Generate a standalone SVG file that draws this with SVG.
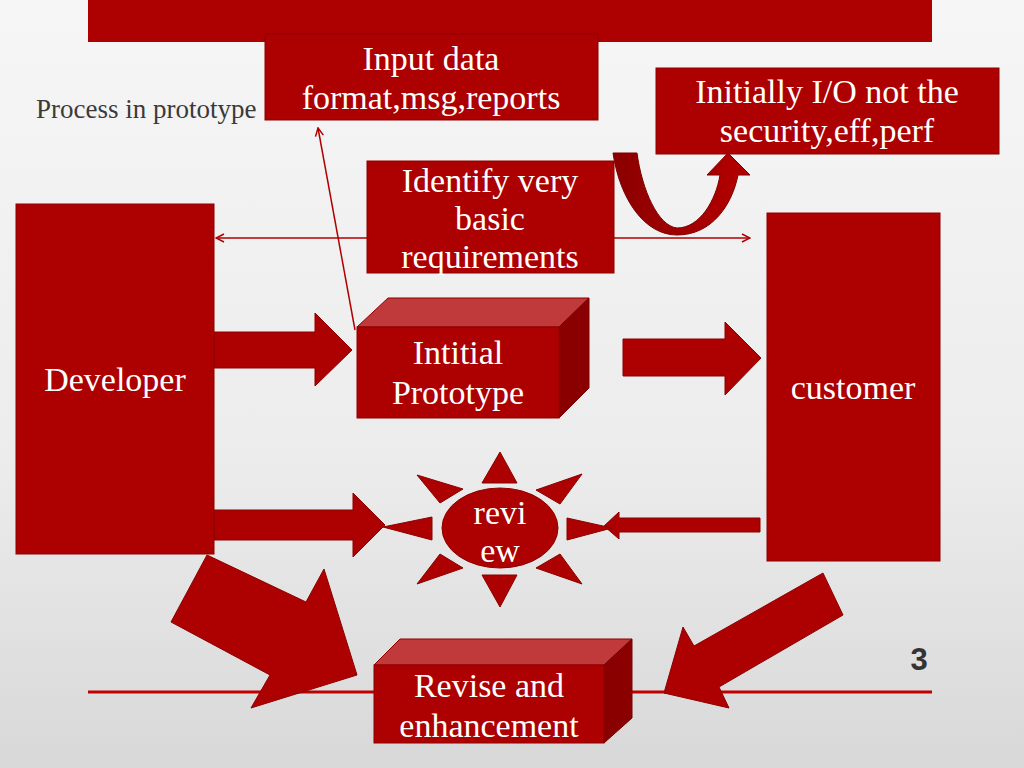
<svg xmlns="http://www.w3.org/2000/svg" width="1024" height="768" viewBox="0 0 1024 768">
<defs>
<linearGradient id="bg" x1="0" y1="0" x2="0" y2="1">
<stop offset="0" stop-color="#f6f6f6"/>
<stop offset="0.6" stop-color="#ececec"/>
<stop offset="1" stop-color="#d8d8d8"/>
</linearGradient>
<linearGradient id="ushade" x1="0" y1="0" x2="1" y2="0">
<stop offset="0" stop-color="#8a0000"/>
<stop offset="0.45" stop-color="#a00000"/>
<stop offset="1" stop-color="#b40000"/>
</linearGradient>
<marker id="open" viewBox="0 0 10 10" refX="9" refY="5" markerWidth="10" markerHeight="10" markerUnits="userSpaceOnUse" orient="auto-start-reverse">
<path d="M1,1 L9,5 L1,9" fill="none" stroke="#b00000" stroke-width="1.5"/>
</marker>
<style>
.box{fill:#ad0000;stroke:#8e0000;stroke-width:1}
.top{fill:#c0393b;stroke:#8e0000;stroke-width:1}
.side{fill:#8a0000;stroke:#7a0000;stroke-width:1}
.fat{fill:#ad0000;stroke:#8e0000;stroke-width:1}
.t{font-family:"Liberation Serif","Times New Roman",serif;font-size:34px;fill:#ffffff;text-anchor:middle}
.thin{stroke:#b00000;stroke-width:1.5;fill:none}
</style>
</defs>
<rect x="0" y="0" width="1024" height="768" fill="url(#bg)"/>
<rect x="88" y="0" width="844" height="42" fill="#ad0000"/>
<line x1="88" y1="692" x2="932" y2="692" stroke="#c00000" stroke-width="3"/>
<text x="36" y="118" font-family="Liberation Serif, serif" font-size="27" fill="#3a3a3a">Process in prototype</text>
<text x="919" y="670" font-family="Liberation Sans, Arial, sans-serif" font-size="31" font-weight="bold" fill="#333333" text-anchor="middle">3</text>

<g id="connectors">
<line class="thin" x1="216" y1="238" x2="750" y2="238" marker-start="url(#open)" marker-end="url(#open)"/>
<line class="thin" x1="355" y1="330" x2="318" y2="128" marker-end="url(#open)"/>
<polygon class="fat" points="214,332 315,332 315,313 352,350 315,386 315,368 214,368"/>
<polygon class="fat" points="623,339 725,339 725,322 761,358 725,395 725,376 623,376"/>
<polygon class="fat" points="214,510 353,510 353,493 385,525 353,557 353,540 214,540"/>
<polygon class="fat" points="760,518 619,518 619,512 604,526 619,539 619,532 760,532"/>
<polygon class="fat" points="207,555 306,602 324,569 357,675 251,708 270,675 171,622"/>
<polygon class="fat" points="823,573 843,615 719,687 729,708 664,693 683,627 694,646"/>
<path d="M613,153 L637,153 C642,190 658,226 677,228 C700,228 716,200 720,175 L707,175 L728,153 L750,175 L738,175 C732,205 712,235 677,235 C645,235 620,200 613,153 Z" fill="url(#ushade)" stroke="#7a0000" stroke-width="1"/>
</g>

<g id="input-data">
<rect class="box" x="265" y="34" width="333" height="86"/>
<text class="t" x="431" y="70">Input data</text>
<text class="t" x="431" y="109">format,msg,reports</text>
</g>

<g id="initially">
<rect class="box" x="656" y="68" width="343" height="86"/>
<text class="t" x="827" y="103">Initially I/O not the</text>
<text class="t" x="827" y="142">security,eff,perf</text>
</g>

<g id="identify">
<rect class="box" x="367" y="161" width="247" height="112"/>
<text class="t" x="490" y="192">Identify very</text>
<text class="t" x="490" y="230">basic</text>
<text class="t" x="490" y="268">requirements</text>
</g>

<g id="developer">
<rect class="box" x="16" y="204" width="198" height="350"/>
<text class="t" x="115" y="391">Developer</text>
</g>

<g id="customer">
<rect class="box" x="767" y="213" width="173" height="348"/>
<text class="t" x="853" y="399">customer</text>
</g>

<g id="prototype">
<polygon class="top" points="357,327 388,298 589,298 559,327"/>
<polygon class="side" points="559,327 589,298 589,388 559,418"/>
<rect class="box" x="357" y="327" width="202" height="91"/>
<text class="t" x="458" y="364">Intitial</text>
<text class="t" x="458" y="404">Prototype</text>
</g>

<g id="review">
<polygon class="fat" points="482,483 517,483 500,452"/>
<polygon class="fat" points="482,575 517,575 500,607"/>
<polygon class="fat" points="432,517 432,540 383,527"/>
<polygon class="fat" points="567,518 567,540 612,528"/>
<polygon class="fat" points="417,475 463,489 440,503"/>
<polygon class="fat" points="582,474 536,490 560,504"/>
<polygon class="fat" points="417,584 440,554 463,568"/>
<polygon class="fat" points="582,584 560,554 536,568"/>
<ellipse class="box" cx="500" cy="528" rx="58" ry="40"/>
<text class="t" x="500" y="524">revi</text>
<text class="t" x="500" y="562">ew</text>
</g>

<g id="revise">
<polygon class="top" points="374,665 400,639 632,639 604,665"/>
<polygon class="side" points="604,665 632,639 632,718 604,743"/>
<rect class="box" x="374" y="665" width="230" height="78"/>
<text class="t" x="489" y="697">Revise and</text>
<text class="t" x="489" y="737">enhancement</text>
</g>
</svg>
